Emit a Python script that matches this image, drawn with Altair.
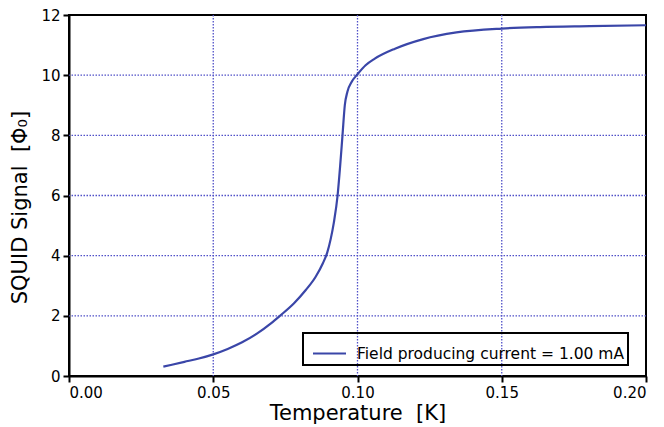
import altair as alt
import pandas as pd

# Curve
temperature = [0.0327, 0.040, 0.045, 0.050, 0.055, 0.060, 0.065, 0.070, 0.0731, 0.078, 0.082,
               0.0855, 0.0880, 0.0895, 0.0907, 0.0918, 0.0931, 0.0940, 0.0948, 0.0956,
               0.0965, 0.0980, 0.1000, 0.1028, 0.1060, 0.1130, 0.1228, 0.1343,
               0.1500, 0.1632, 0.1805, 0.2000]
signal = [0.31, 0.47, 0.58, 0.72, 0.90, 1.12, 1.40, 1.75, 2.00, 2.42, 2.85,
          3.30, 3.75, 4.10, 4.55, 5.10, 6.00, 7.00, 8.00, 9.00,
          9.45, 9.78, 10.03, 10.33, 10.55, 10.88, 11.20, 11.42,
          11.55, 11.60, 11.63, 11.66]
series_name = "Field producing current = 1.00 mA"

x_ticks = [0.00, 0.05, 0.10, 0.15, 0.20]
y_ticks = [0, 2, 4, 6, 8, 10, 12]
x_grid = [0.05, 0.10, 0.15]
y_grid = [2, 4, 6, 8, 10]

curve = pd.DataFrame({"T": temperature, "S": signal, "series": [series_name] * len(signal)})
gx = pd.DataFrame({"g": x_grid})
gy = pd.DataFrame({"g": y_grid})

xscale = alt.Scale(domain=[0, 0.2], nice=False, zero=False)
yscale = alt.Scale(domain=[0, 12], nice=False, zero=False)

grid_color = "#5050c8"

grid_x = alt.Chart(gx).mark_rule(color=grid_color, strokeWidth=1.3, strokeDash=[1.5, 1.5]).encode(
    x=alt.X("g:Q", scale=xscale)
)
grid_y = alt.Chart(gy).mark_rule(color=grid_color, strokeWidth=1.3, strokeDash=[1.5, 1.5]).encode(
    y=alt.Y("g:Q", scale=yscale)
)

line = alt.Chart(curve).mark_line(strokeWidth=2.2, interpolate="monotone").encode(
    x=alt.X("T:Q", scale=xscale,
            axis=alt.Axis(values=x_ticks, format=".2f", title="Temperature\u00a0\u00a0[K]")),
    y=alt.Y("S:Q", scale=yscale,
            axis=alt.Axis(values=y_ticks, format="d", title="SQUID Signal\u00a0\u00a0[Φ₀]",
                          titleY=192)),
    color=alt.Color("series:N", scale=alt.Scale(range=["#3a46a8"]),
                    legend=alt.Legend(title=None, orient="none", legendX=234, legendY=318,
                                      symbolType="stroke", symbolSize=1089, symbolStrokeWidth=2,
                                      symbolOffset=6,
                                      strokeColor="black", padding=3, labelFontSize=15.5,
                                      labelOffset=10, labelFont="DejaVu Sans", labelColor="black",
                                      labelLimit=0)),
)

chart = alt.layer(grid_x, grid_y, line).properties(
    width=577, height=361,
    autosize=alt.AutoSizeParams(type="none"),
    padding={"left": 69, "top": 15, "right": 18, "bottom": 51},
).configure_view(
    stroke="black", strokeWidth=2
).configure_axis(
    grid=False, domainColor="black", domainWidth=2, tickColor="black", tickWidth=2,
    tickSize=6, labelFont="DejaVu Sans", labelFontSize=15, labelColor="black",
    titleFont="DejaVu Sans", titleFontSize=21, titleFontWeight="normal", titleColor="black",
    labelPadding=3
).configure_axisX(
    titlePadding=2
).configure_axisY(
    titlePadding=10
).configure_legend(
    strokeWidth=2
)

chart.save("out.html", embed_options={"renderer": "svg", "actions": False})
